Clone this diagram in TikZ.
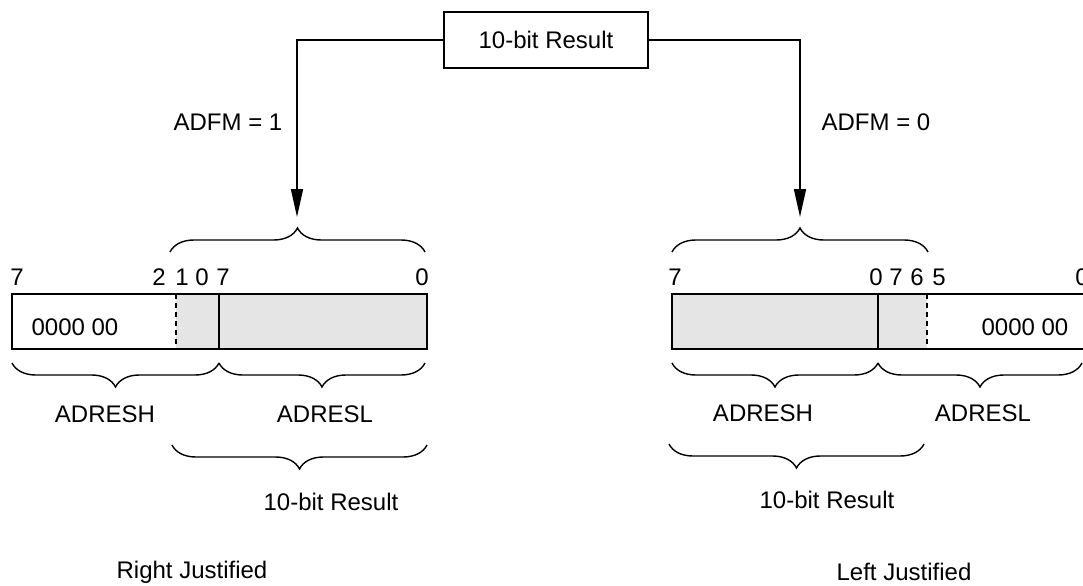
\documentclass[tikz,border=0pt]{standalone}
\usepackage{fontspec}
\setmainfont{Liberation Sans}
\usetikzlibrary{decorations.pathreplacing,arrows.meta}
\begin{document}
\begin{tikzpicture}[x=0.5pt,y=-0.5pt,
  line width=0.8pt,
  txt/.style={inner sep=0pt, font=\fontsize{12}{14}\selectfont},
  resbox/.style={draw, minimum width=102pt, minimum height=28pt, inner sep=0pt, font=\fontsize{12}{14}\selectfont},
  brc/.style={decorate, decoration={brace, amplitude=12pt}, line width=0.7pt},
  mbrc/.style={decorate, decoration={brace, mirror, amplitude=12pt}, line width=0.7pt},
  arr/.style={-{Triangle[length=14pt,width=6pt]}},
  regfill/.style={fill=black!10, draw=none},
  divdash/.style={dash pattern=on 2.5pt off 2pt},
]
\clip (0,0) rectangle (1083,585);
\fill[white] (0,0) rectangle (1083,585);

% top box and arrows
\node[resbox] (res) at (546,40) {10-bit Result};
\coordinate (aL) at (297,217);
\coordinate (aR) at (800,217);
\draw[arr] (res.west) -| (aL);
\draw[arr] (res.east) -| (aR);
\node[txt] (adfm1) at (228,122) {ADFM = 1};
\node[txt] (adfm0) at (876,122) {ADFM = 0};

% ---------- left register (right justified) ----------
\fill[regfill] (176,294) rectangle (427,349);
\draw (12,294) rectangle (427,349);
\draw[divdash] (176,294) -- (176,349);
\draw (219,294) -- (219,349);
\node[txt] (lz) at (75,327) {0000 00};

\node[txt] (lb7) at (17,277) {7};
\node[txt] (lb2) at (159,277) {2};
\node[txt] (lb1) at (182,277) {1};
\node[txt] (lb0) at (202,277) {0};
\node[txt] (lb7b) at (223,277) {7};
\node[txt] (lb0b) at (422,277) {0};

\draw[brc] (170,252) -- (425,252);
\draw[mbrc] (12,363) -- (219,363);
\draw[mbrc] (219,363) -- (425,363);
\draw[mbrc] (172,445) -- (427,445);

\node[txt] (lh) at (105,414) {ADRESH};
\node[txt] (ll) at (325,414) {ADRESL};
\node[txt] (lres) at (331,502) {10-bit Result};
\node[txt] (rj) at (192,572) {Right Justified};

% ---------- right register (left justified) ----------
\fill[regfill] (672,294) rectangle (927,349);
\draw (672,294) rectangle (1100,349);
\draw (878,294) -- (878,349);
\draw[divdash] (927,294) -- (927,349);
\node[txt] (rz) at (1025,327) {0000 00};

\node[txt] (rb7) at (675,277) {7};
\node[txt] (rb0) at (876,277) {0};
\node[txt] (rb7b) at (896,277) {7};
\node[txt] (rb6) at (917,277) {6};
\node[txt] (rb5) at (939,277) {5};
\node[txt] (rb0b) at (1082,277) {0};

\draw[brc] (672,252) -- (928,252);
\draw[mbrc] (672,363) -- (878,363);
\draw[mbrc] (878,363) -- (1082,363);
\draw[mbrc] (669,444) -- (924,444);

\node[txt] (rh) at (763,413) {ADRESH};
\node[txt] (rl) at (983,413) {ADRESL};
\node[txt] (rres) at (827,500) {10-bit Result};
\node[txt] (lj) at (904,572) {Left Justified};
\end{tikzpicture}
\end{document}
